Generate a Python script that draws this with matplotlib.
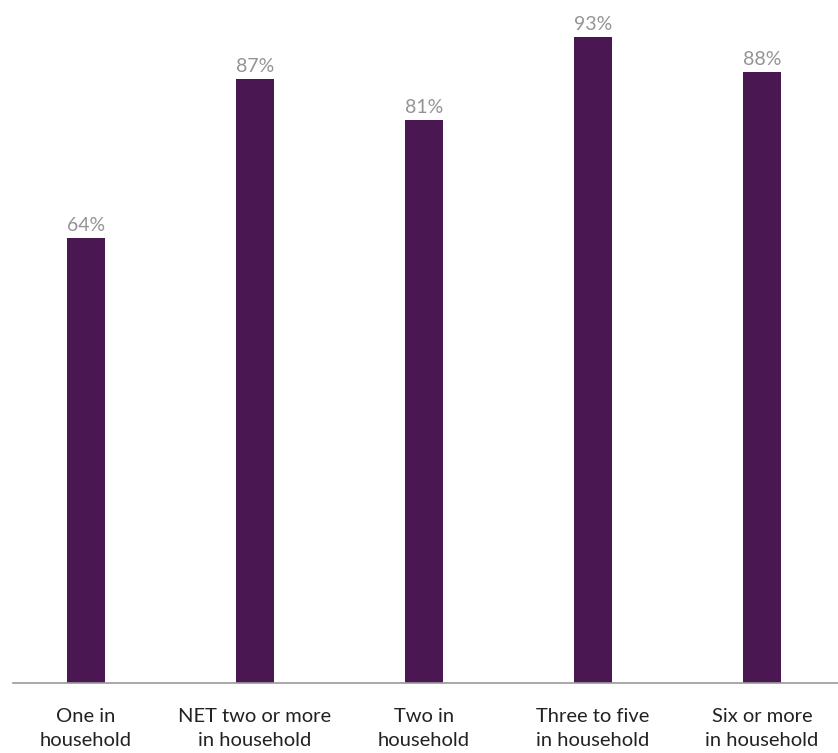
import numpy as np
import matplotlib
matplotlib.use("Agg")
import matplotlib.pyplot as plt

# 数据
categories = ["One in\nhousehold", "NET two or more\nin household", "Two in\nhousehold",
              "Three to five\nin household", "Six or more\nin household"]
values = [64, 87, 81, 93, 88]

plt.rcParams['font.family'] = ['Lato', 'DejaVu Sans']

fig = plt.figure(figsize=(8.38, 7.53), dpi=100)
ax = fig.add_axes([0.0155, 0.093, 0.9845, 0.907])

x = np.arange(len(categories))
bars = ax.bar(x, values, width=0.225, color="#4a1753")

# 数值标签
for xi, v in zip(x, values):
    ax.annotate(f"{v}%", (xi, v), xytext=(0, 5), textcoords="offset points",
                ha="center", va="baseline", fontsize=14, color="#949494")

ax.set_xlim(-0.43, 4.45)
ax.set_ylim(0, 98.3)
ax.set_xticks(x)
ax.set_xticklabels(categories, fontsize=14.5, color="#222222", linespacing=1.5)
ax.tick_params(axis="x", length=0, pad=18)
ax.set_yticks([])

for s in ["top", "right", "left"]:
    ax.spines[s].set_visible(False)
ax.spines["bottom"].set_color("#9a9a9a")
ax.spines["bottom"].set_linewidth(1.2)

fig.savefig("out.png", dpi=100)
